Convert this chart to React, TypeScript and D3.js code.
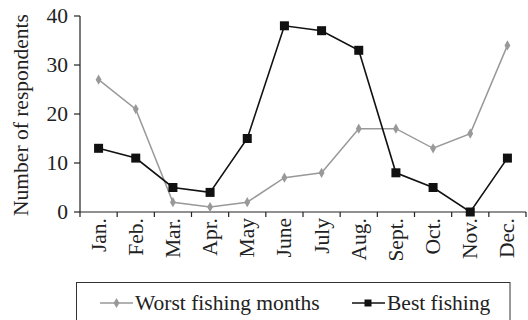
import React from "react";
import * as d3 from "d3";

const months = ["Jan.", "Feb.", "Mar.", "Apr.", "May", "June", "July", "Aug.", "Sept.", "Oct.", "Nov.", "Dec."];
const worst = [27, 21, 2, 1, 2, 7, 8, 17, 17, 13, 16, 34];
const best = [13, 11, 5, 4, 15, 38, 37, 33, 8, 5, 0, 11];
const yTicks = [0, 10, 20, 30, 40];

export default function App() {
  const W = 528, H = 320;
  const left = 80, right = 526, top = 16, bottom = 212;
  const x = d3.scaleBand<string>().domain(months).range([left, right]);
  const y = d3.scaleLinear().domain([0, 40]).range([bottom, top]);
  const cx = (i: number) => (x(months[i]) as number) + x.bandwidth() / 2;
  const line = d3.line<number>().x((_, i) => cx(i)).y((d) => y(d));
  const font = "Liberation Serif, Times New Roman, DejaVu Serif, serif";
  const gray = "#999999";
  const ink = "#222";
  const boundaries = months.map((m) => x(m) as number).concat([right]);
  const ts = { fontFamily: font };
  const fs = 21.5;
  return (
    <svg width={W} height={H} style={{ position: "absolute", left: 0, top: 0, fontFamily: font }}>
      <rect width={W} height={H} fill="#fff" />
      {/* y axis */}
      <line x1={left} x2={left} y1={top} y2={bottom} stroke={ink} strokeWidth={1.2} />
      {yTicks.map((t) => (
        <g key={t}>
          <line x1={left - 6} x2={left} y1={y(t)} y2={y(t)} stroke={ink} strokeWidth={1.2} />
          <text style={ts} x={left - 12} y={y(t)} dy="0.33em" textAnchor="end" fontSize={fs} fill={ink}>{t}</text>
        </g>
      ))}
      {/* x axis */}
      <line x1={left} x2={right} y1={bottom} y2={bottom} stroke={ink} strokeWidth={1.2} />
      {boundaries.map((b, i) => (
        <line key={i} x1={b} x2={b} y1={bottom} y2={bottom + 5} stroke={ink} strokeWidth={1.2} />
      ))}
      {months.map((m, i) => (
        <text key={m} style={ts} transform={`translate(${cx(i) + 7},${bottom + 6}) rotate(-90)`} textAnchor="end" fontSize={fs} fill={ink}>{m}</text>
      ))}
      <text style={ts} transform={`translate(28,115) rotate(-90)`} textAnchor="middle" fontSize={fs} fill={ink}>Number of respondents</text>
      {/* worst series */}
      <path d={line(worst) || ""} fill="none" stroke={gray} strokeWidth={1.5} />
      {worst.map((v, i) => (
        <path key={i} d={d3.symbol().type(d3.symbolDiamond).size(30)() || ""} transform={`translate(${cx(i)},${y(v)})`} fill={gray} />
      ))}
      {/* best series */}
      <path d={line(best) || ""} fill="none" stroke="#111" strokeWidth={1.6} />
      {best.map((v, i) => (
        <rect key={i} x={cx(i) - 4.5} y={y(v) - 4.5} width={9} height={9} fill="#111" />
      ))}
      {/* legend */}
      <rect x={76.5} y={282.5} width={433.5} height={50} fill="none" stroke="#333" strokeWidth={1} />
      <line x1={100} x2={133} y1={303} y2={303} stroke={gray} strokeWidth={1.5} />
      <path d={d3.symbol().type(d3.symbolDiamond).size(30)() || ""} transform="translate(116.5,303)" fill={gray} />
      <text style={ts} x={135} y={303} dy="0.33em" fontSize={fs} fill={ink}>Worst fishing months</text>
      <line x1={352} x2={385} y1={303} y2={303} stroke="#111" strokeWidth={1.6} />
      <rect x={364.5} y={299.5} width={7} height={7} fill="#111" />
      <text style={ts} x={387} y={303} dy="0.33em" fontSize={fs} fill={ink}>Best fishing</text>
    </svg>
  );
}
